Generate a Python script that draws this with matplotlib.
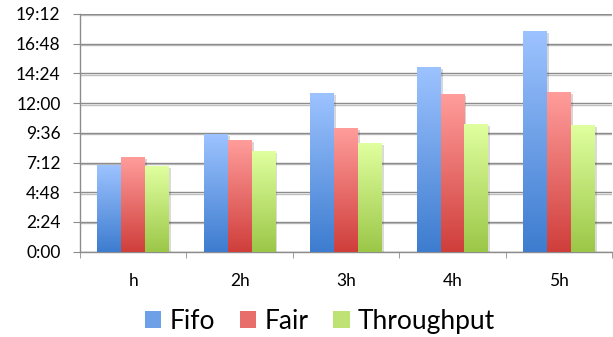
import numpy as np
import matplotlib.pyplot as plt
from matplotlib.ticker import MultipleLocator, FuncFormatter
from matplotlib.patches import Patch
import matplotlib.patheffects as pe

plt.rcParams['font.family'] = ['Lato', 'DejaVu Sans']

# run time per scheduler (h:mm)
categories = ["h", "2h", "3h", "4h", "5h"]
fifo = ["7:01", "9:31", "12:50", "14:55", "17:50"]
fair = ["7:40", "9:02", "10:00", "12:45", "12:54"]
throughput = ["6:56", "8:09", "8:48", "10:20", "10:15"]

series = ["Fifo", "Fair", "Throughput"]
top_colors = ["#9dc3ff", "#ff9d9b", "#e0ff9f"]
bottom_colors = ["#3d7ccf", "#cf3e3b", "#9bc748"]


def to_minutes(s):
    h, m = s.split(":")
    return int(h) * 60 + int(m)


def fmt(v, pos):
    v = int(round(v))
    return f"{v // 60}:{v % 60:02d}"


def hex_rgb(c):
    c = c.lstrip("#")
    return np.array([int(c[i:i + 2], 16) / 255 for i in (0, 2, 4)])


fig = plt.figure(figsize=(6.13, 3.37), dpi=100)
ax = fig.add_axes([0.1305, 0.2531, 0.868, 0.7054])

x = np.arange(len(categories))
w = 0.224
data = [fifo, fair, throughput]
for i, vals in enumerate(data):
    mins = [to_minutes(v) for v in vals]
    bars = ax.bar(x + (i - 1) * w, mins, w, color=bottom_colors[i], zorder=3,
                  path_effects=[pe.SimplePatchShadow(offset=(1.5, -1.5), alpha=0.18, rho=0.3),
                                pe.Normal()])
    t = hex_rgb(top_colors[i])
    b = hex_rgb(bottom_colors[i])
    grad = np.linspace(0, 1, 256)[:, None, None]
    img = t * (1 - grad) + b * grad
    for bar in bars:
        x0, h = bar.get_x(), bar.get_height()
        im = ax.imshow(img, extent=[x0, x0 + w, 0, h], origin="upper",
                       aspect="auto", zorder=4, interpolation="bilinear")
        im.set_clip_path(bar)

ax.set_xlim(-0.5, len(categories) - 0.5)
ax.set_ylim(0, 1152)
ax.yaxis.set_major_locator(MultipleLocator(144))
ax.yaxis.set_major_formatter(FuncFormatter(fmt))
ax.set_xticks(x)
ax.set_xticklabels(categories)
ax.set_xticks(np.arange(-0.5, len(categories)), minor=True)

ax.tick_params(axis="y", length=5, color="#8c8c8c", labelsize=12.5, pad=9)
ax.tick_params(axis="x", which="major", length=0, labelsize=12.5, pad=15)
ax.tick_params(axis="x", which="minor", length=4.3, color="#8c8c8c")

for s in ("top", "right"):
    ax.spines[s].set_visible(False)
for s in ("left", "bottom"):
    ax.spines[s].set_color("#8c8c8c")
    ax.spines[s].set_linewidth(1)

ax.yaxis.grid(True, color="#8c8c8c", linewidth=1, zorder=0)
ax.set_axisbelow(True)
for line in ax.get_ygridlines():
    line.set_path_effects([pe.SimpleLineShadow(offset=(0, -1), alpha=0.25), pe.Normal()])

handles = [Patch(facecolor=(hex_rgb(top_colors[i]) + hex_rgb(bottom_colors[i])) / 2,
                 label=series[i]) for i in range(3)]
fig.legend(handles=handles, loc="center", bbox_to_anchor=(0.522, 0.046), ncol=3,
           frameon=False, fontsize=19, handlelength=0.63, handleheight=0.63,
           handletextpad=0.3, columnspacing=0.95, borderpad=0)

fig.savefig("out.png", dpi=100)
